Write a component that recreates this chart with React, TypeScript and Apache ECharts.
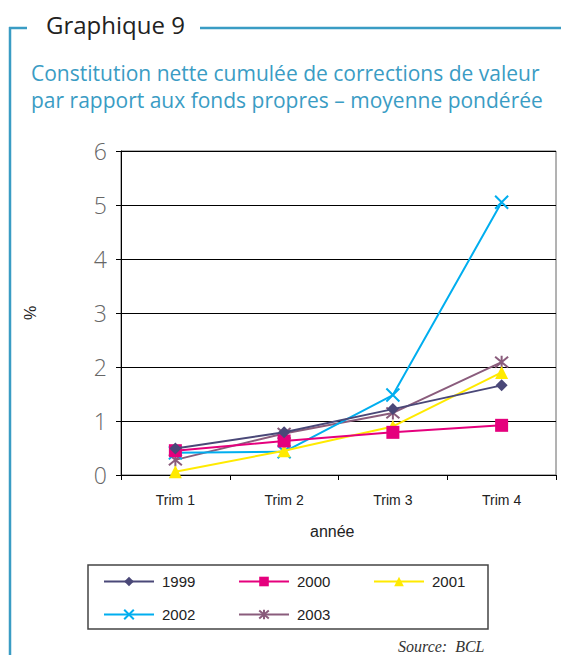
import React, { useEffect, useRef } from "react";
import * as echarts from "echarts";

const categories = ["Trim 1", "Trim 2", "Trim 3", "Trim 4"];
const seriesNames = ["1999", "2000", "2001", "2002", "2003"];
const s1999 = [0.49, 0.79, 1.22, 1.66];
const s2000 = [0.45, 0.63, 0.79, 0.92];
const s2001 = [0.06, 0.45, 0.9, 1.9];
const s2002 = [0.41, 0.43, 1.48, 5.05];
const s2003 = [0.28, 0.77, 1.15, 2.09];
const colors = ["#4A4878", "#E5007D", "#FFEA00", "#00AEEF", "#8A5C7C"];
const symbols = [
  "diamond",
  "rect",
  "triangle",
  "path://M0,0L10,10M10,0L0,10",
  "path://M0,0L10,10M10,0L0,10M5,-1L5,11",
];
const symbolSizes = [12, 13, 13, 13, 13];

export default function App() {
  const ref = useRef<HTMLDivElement>(null);
  useEffect(() => {
    if (!ref.current) return;
    const chart = echarts.init(ref.current, null, { renderer: "svg" });
    const data = [s1999, s2000, s2001, s2002, s2003];
    const series = seriesNames.map((n, i) => {
      const isPath = i >= 3;
      return {
        name: n,
        type: "line",
        data: data[i],
        symbol: symbols[i],
        symbolSize: symbolSizes[i],
        showAllSymbol: true,
        lineStyle: { color: colors[i], width: 2 },
        itemStyle: isPath
          ? { color: colors[i], borderColor: colors[i], borderWidth: 2 }
          : { color: colors[i], borderWidth: 0 },
        z: 10 - i,
      };
    });
    const legendPos = [
      { left: 103, top: 574 },
      { left: 238, top: 574 },
      { left: 373, top: 574 },
      { left: 103, top: 607 },
      { left: 238, top: 607 },
    ];
    const legends = seriesNames.map((n, i) => ({
      data: [n],
      left: legendPos[i].left,
      top: legendPos[i].top,
      itemWidth: 50,
      itemHeight: 12,
      itemGap: 0,
      padding: 0,
      textStyle: { fontFamily: "Liberation Sans", fontSize: 15, color: "#222", padding: [0, 0, 0, 3] },
    }));
    const blue = "#3A9CC4";
    chart.setOption({
      animation: false,
      backgroundColor: "#fff",
      grid: {
        left: 121,
        top: 151,
        right: 5,
        bottom: 180,
        show: true,
        borderColor: "#666",
        borderWidth: 1,
        containLabel: false,
      },
      legend: legends,
      xAxis: {
        type: "category",
        data: categories,
        boundaryGap: true,
        axisLine: { lineStyle: { color: "#000", width: 1 } },
        axisTick: { show: true, length: 5, lineStyle: { color: "#000" } },
        axisLabel: { fontFamily: "Liberation Sans", fontSize: 14, color: "#222", margin: 18 },
      },
      yAxis: {
        type: "value",
        min: 0,
        max: 6,
        interval: 1,
        axisLine: { show: true, lineStyle: { color: "#000", width: 1 } },
        axisTick: { show: true, length: 5, lineStyle: { color: "#000" } },
        splitLine: { lineStyle: { color: "#000", width: 1 } },
        axisLabel: { fontFamily: "Open Sans", fontWeight: 300, fontSize: 23, color: "#666", margin: 14 },
      },
      series,
      graphic: [
        { type: "line", shape: { x1: 10, y1: 27, x2: 10, y2: 655 }, style: { stroke: blue, lineWidth: 2.5 } },
        { type: "line", shape: { x1: 9, y1: 28, x2: 27, y2: 28 }, style: { stroke: blue, lineWidth: 2.5 } },
        { type: "line", shape: { x1: 200, y1: 28, x2: 561, y2: 28 }, style: { stroke: blue, lineWidth: 2.5 } },
        {
          type: "text",
          left: 46,
          top: 12,
          style: { text: "Graphique 9", fontFamily: "Open Sans", fontSize: 24, fill: "#222" },
        },
        {
          type: "text",
          left: 31,
          top: 59,
          style: {
            text: "Constitution nette cumulée de corrections de valeur\npar rapport aux fonds propres – moyenne pondérée",
            fontFamily: "Open Sans",
            fontSize: 21,
            lineHeight: 27,
            fill: blue,
          },
        },
        {
          type: "text",
          x: 22,
          y: 320,
          rotation: Math.PI / 2,
          style: { text: "%", fontFamily: "Liberation Sans", fontSize: 16, fill: "#222" },
        },
        {
          type: "text",
          left: 310,
          top: 523,
          style: { text: "année", fontFamily: "Liberation Sans", fontSize: 16, fill: "#222" },
        },
        {
          type: "rect",
          shape: { x: 88, y: 565, width: 400, height: 64 },
          style: { fill: "none", stroke: "#444", lineWidth: 1.5 },
        },
        {
          type: "text",
          left: 398,
          top: 638,
          style: { text: "Source:  BCL", fontFamily: "Liberation Serif", fontStyle: "italic", fontSize: 16, fill: "#333" },
        },
      ],
    });
    return () => chart.dispose();
  }, []);
  return (
    <div
      ref={ref}
      style={{ position: "fixed", left: 0, top: 0, width: 561, height: 655, background: "#fff" }}
    />
  );
}
